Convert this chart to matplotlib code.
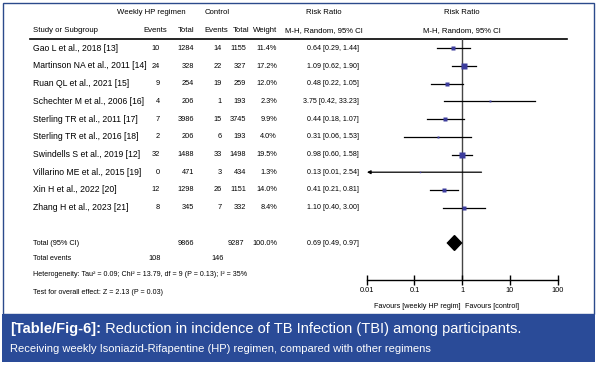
import numpy as np
import matplotlib
matplotlib.use('Agg')
import matplotlib.pyplot as plt
import matplotlib.font_manager as fm
import matplotlib.transforms as mtrans
from matplotlib.patches import Rectangle, Polygon

# study data
studies = ['Gao L et al., 2018 [13]', 'Martinson NA et al., 2011 [14]',
           'Ruan QL et al., 2021 [15]', 'Schechter M et al., 2006 [16]',
           'Sterling TR et al., 2011 [17]', 'Sterling TR et al., 2016 [18]',
           'Swindells S et al., 2019 [12]', 'Villarino ME et al., 2015 [19]',
           'Xin H et al., 2022 [20]', 'Zhang H et al., 2023 [21]']
hp_events = [10, 24, 9, 4, 7, 2, 32, 0, 12, 8]
hp_total = [1284, 328, 254, 206, 3986, 206, 1488, 471, 1298, 345]
ctl_events = [14, 22, 19, 1, 15, 6, 33, 3, 26, 7]
ctl_total = [1155, 327, 259, 193, 3745, 193, 1498, 434, 1151, 332]
weight = [11.4, 17.2, 12.0, 2.3, 9.9, 4.0, 19.5, 1.3, 14.0, 8.4]
rr = [0.64, 1.09, 0.48, 3.75, 0.44, 0.31, 0.98, 0.13, 0.41, 1.10]
lo = [0.29, 0.62, 0.22, 0.42, 0.18, 0.06, 0.60, 0.01, 0.21, 0.40]
hi = [1.44, 1.90, 1.05, 33.23, 1.07, 1.53, 1.58, 2.54, 0.81, 3.00]

total_rr, total_lo, total_hi = 0.69, 0.49, 0.97
total_n = [9866, 9287]
total_ev = [108, 146]
ticks = [0.01, 0.1, 1, 10, 100]
tick_labels = ['0.01', '0.1', '1', '10', '100']

names = {f.name for f in fm.fontManager.ttflist}
if 'Liberation Sans Narrow' in names:
    NARROW, k = 'Liberation Sans Narrow', 1.0
else:
    NARROW, k = 'Liberation Sans', 0.82
SANS = 'Liberation Sans'

W, H = 597, 365
fig = plt.figure(figsize=(W / 100, H / 100), dpi=100)
fig.patch.set_facecolor('white')

# background axes in pixel coords
bg = fig.add_axes([0, 0, 1, 1])
bg.set_xlim(0, W)
bg.set_ylim(H, 0)
bg.axis('off')

blue = '#2a4b98'
bg.add_patch(Rectangle((3, 3), 591, 311, fill=False, ec='#2b4a8b', lw=1.0))
bg.add_patch(Rectangle((2, 314), 593, 48, fc=blue, ec='none'))

# forest axes
x0, x1 = 366.7, 557.7
y_top, y_bot = 38.5, 280
ax = fig.add_axes([x0 / W, 1 - y_bot / H, (x1 - x0) / W, (y_bot - y_top) / H])
ax.set_xscale('log')
ax.set_xlim(0.01, 100)
row0, step = 48.3, 17.7
ax.set_ylim((y_bot - row0) / step, (y_top - row0) / step)
ax.patch.set_alpha(0)
for s in ['top', 'left', 'right']:
    ax.spines[s].set_visible(False)
ax.spines['bottom'].set_linewidth(1.0)
ax.set_yticks([])
ax.set_xticks(ticks)
ax.set_xticklabels(tick_labels, fontsize=6.5 * k, family=NARROW)
ax.xaxis.set_minor_locator(matplotlib.ticker.NullLocator())
ax.tick_params(axis='x', direction='inout', length=7, width=1.0, pad=1.5)
ax.axvline(1, color='#444444', lw=1.0, zorder=1)

rows = np.arange(len(studies))
for i in rows:
    if lo[i] <= 0.01:
        ax.annotate('', xy=(0.0101, i), xytext=(hi[i], i), annotation_clip=False,
                    arrowprops=dict(arrowstyle='-|>', color='black', lw=0.9,
                                    mutation_scale=5, shrinkA=0, shrinkB=0))
    else:
        ax.plot([lo[i], hi[i]], [i, i], color='black', lw=0.9, clip_on=False)
    side = 1.25 * np.sqrt(weight[i])
    ax.plot(rr[i], i, marker='s', ms=side * 0.72, color='#3c3c9c', mec='none', zorder=3)

tr = 11
ax.add_patch(Polygon([[total_lo, tr], [total_rr, tr - 0.42], [total_hi, tr],
                      [total_rr, tr + 0.42]], closed=True, fc='black', ec='black', zorder=3))

# text helpers
rowt = mtrans.blended_transform_factory(bg.transData, ax.transData)
hdr = dict(family=NARROW, fontsize=6.8 * k, va='center')
num = dict(family=NARROW, fontsize=6.5 * k, va='center', ha='right', transform=rowt)
rrf = dict(family=NARROW, fontsize=6.3 * k, va='center', ha='right', transform=rowt)

bg.text(151, 13, 'Weekly HP regimen', ha='center', **hdr)
bg.text(217, 13, 'Control', ha='center', **hdr)
bg.text(324, 13, 'Risk Ratio', ha='center', **hdr)
bg.text(462, 13, 'Risk Ratio', ha='center', **hdr)
bg.text(33, 31, 'Study or Subgroup', ha='left', **hdr)
bg.text(167, 31, 'Events', ha='right', **hdr)
bg.text(194, 31, 'Total', ha='right', **hdr)
bg.text(228, 31, 'Events', ha='right', **hdr)
bg.text(249, 31, 'Total', ha='right', **hdr)
bg.text(277, 31, 'Weight', ha='right', **hdr)
bg.text(324, 31, 'M-H, Random, 95% CI', ha='center', **hdr)
bg.text(462, 31, 'M-H, Random, 95% CI', ha='center', **hdr)
bg.plot([30, 567], [38.5, 38.5], color='black', lw=1.2)

for i in rows:
    bg.text(33, i, studies[i], family=NARROW, fontsize=7.6 * k, va='center',
            ha='left', transform=rowt)
    bg.text(160, i, str(hp_events[i]), **num)
    bg.text(194, i, str(hp_total[i]), **num)
    bg.text(222, i, str(ctl_events[i]), **num)
    bg.text(246, i, str(ctl_total[i]), **num)
    bg.text(277, i, '%.1f%%' % weight[i], **num)
    bg.text(359, i, '%.2f [%.2f, %.2f]' % (rr[i], lo[i], hi[i]), **rrf)

bg.text(33, tr, 'Total (95% CI)', family=NARROW, fontsize=6.5 * k, va='center',
        ha='left', transform=rowt)
bg.text(194, tr, str(total_n[0]), **num)
bg.text(244, tr, str(total_n[1]), **num)
bg.text(277, tr, '100.0%', **num)
bg.text(359, tr, '%.2f [%.2f, %.2f]' % (total_rr, total_lo, total_hi), **rrf)

small = dict(family=NARROW, fontsize=6.3 * k, va='center', ha='left')
bg.text(33, 259, 'Total events', **small)
bg.text(161, 259, str(total_ev[0]), family=NARROW, fontsize=6.5 * k, va='center', ha='right')
bg.text(224, 259, str(total_ev[1]), family=NARROW, fontsize=6.5 * k, va='center', ha='right')
bg.text(33, 275, 'Heterogeneity: Tau² = 0.09; Chi² = 13.79, df = 9 (P = 0.13); I² = 35%', **small)
bg.text(33, 292, 'Test for overall effect: Z = 2.13 (P = 0.03)', **small)

bg.text(460, 307, 'Favours [weekly HP regim]', family=NARROW, fontsize=6.4 * k,
        va='center', ha='right')
bg.text(465, 307, 'Favours [control]', family=NARROW, fontsize=6.4 * k,
        va='center', ha='left')

# caption
r = fig.canvas.get_renderer()
t1 = bg.text(10, 329, '[Table/Fig-6]:', family=SANS, fontsize=10.5, weight='bold',
             color='white', va='center', ha='left')
bb = t1.get_window_extent(renderer=r)
xend = bg.transData.inverted().transform((bb.x1, bb.y0))[0]
bg.text(xend, 329, ' Reduction in incidence of TB Infection (TBI) among participants.',
        family=SANS, fontsize=10.5, color='white', va='center', ha='left')
bg.text(10, 349, 'Receiving weekly Isoniazid-Rifapentine (HP) regimen, compared with other regimens',
        family=SANS, fontsize=8.0, color='white', va='center', ha='left')

fig.savefig('out.png', dpi=100)
